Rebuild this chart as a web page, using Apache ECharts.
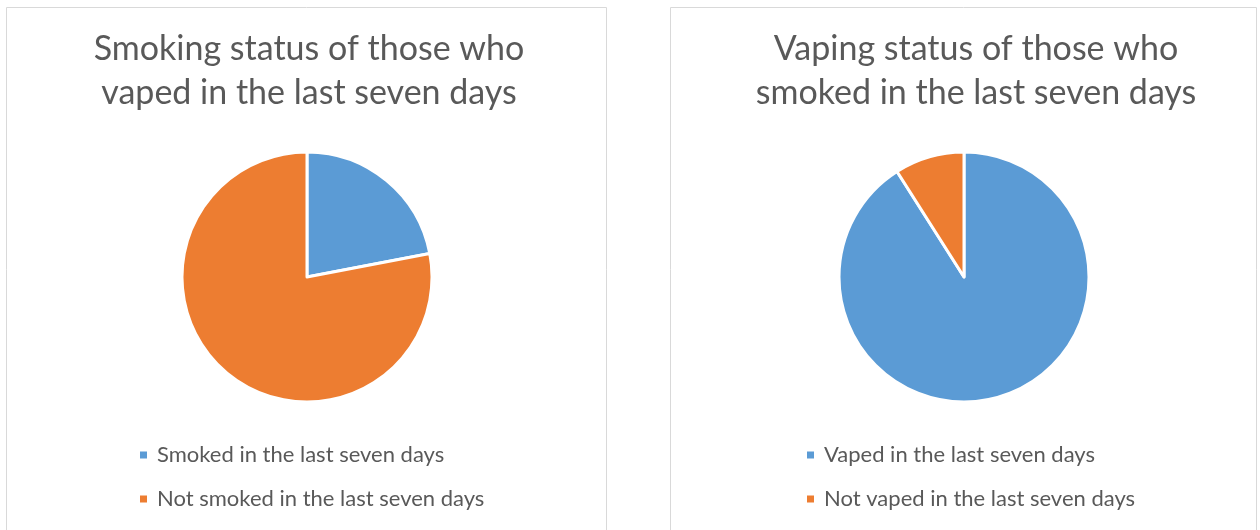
<!DOCTYPE html>
<html>
<head>
<meta charset="utf-8">
<script src="https://cdn.jsdelivr.net/npm/echarts@6/dist/echarts.min.js"></script>
<style>
  html, body { margin: 0; padding: 0; background: #ffffff; }
  #chart { width: 1260px; height: 530px; }
</style>
</head>
<body>
<div id="chart"></div>
<script>
// Survey shares (%), one pie per panel
const smokingTitle = 'Smoking status of those who\nvaped in the last seven days';
const smokingLabels = ['Smoked in the last seven days', 'Not smoked in the last seven days'];
const smokingValues = [22, 78];

const vapingTitle = 'Vaping status of those who\nsmoked in the last seven days';
const vapingLabels = ['Vaped in the last seven days', 'Not vaped in the last seven days'];
const vapingValues = [91, 9];

const colors = ['#5b9bd5', '#ed7d31'];
const textColor = '#595959';
const fontFamily = 'Lato, "Open Sans", sans-serif';

const toData = (labels, values) => labels.map((name, i) => ({ name, value: values[i] }));

const chart = echarts.init(document.getElementById('chart'), null, { renderer: 'canvas' });

const titleText = (text, x) => ({
  type: 'text',
  x: x,
  y: 27,
  style: {
    text: text,
    fill: textColor,
    font: '34px ' + fontFamily,
    textAlign: 'center',
    textVerticalAlign: 'top',
    lineHeight: 44
  },
  silent: true
});

const panelBox = (x, w) => ({
  type: 'rect',
  shape: { x: x, y: 7.5, width: w, height: 540 },
  style: { fill: 'none', stroke: '#d9d9d9', lineWidth: 1 },
  silent: true
});

const legendCommon = {
  orient: 'vertical',
  icon: 'rect',
  padding: 0,
  itemWidth: 9,
  itemHeight: 9,
  itemGap: 22,
  top: 444,
  textStyle: {
    color: textColor,
    fontSize: 22,
    lineHeight: 22,
    fontFamily: fontFamily,
    padding: [0, 0, 0, 4]
  }
};

const pieCommon = {
  type: 'pie',
  radius: 125,
  startAngle: 90,
  clockwise: true,
  label: { show: false },
  labelLine: { show: false },
  emphasis: { disabled: true },
  itemStyle: { borderColor: '#ffffff', borderWidth: 3 },
  animation: false
};

chart.setOption({
  color: colors,
  animation: false,
  graphic: [
    panelBox(6.5, 600),
    panelBox(670.5, 586),
    titleText(smokingTitle, 309),
    titleText(vapingTitle, 976)
  ],
  legend: [
    Object.assign({}, legendCommon, { left: 138, data: smokingLabels }),
    Object.assign({}, legendCommon, { left: 805, data: vapingLabels })
  ],
  series: [
    Object.assign({}, pieCommon, {
      name: 'Smoking status',
      center: [307, 277],
      data: toData(smokingLabels, smokingValues)
    }),
    Object.assign({}, pieCommon, {
      name: 'Vaping status',
      center: [964, 277],
      data: toData(vapingLabels, vapingValues)
    })
  ]
});
</script>
</body>
</html>
